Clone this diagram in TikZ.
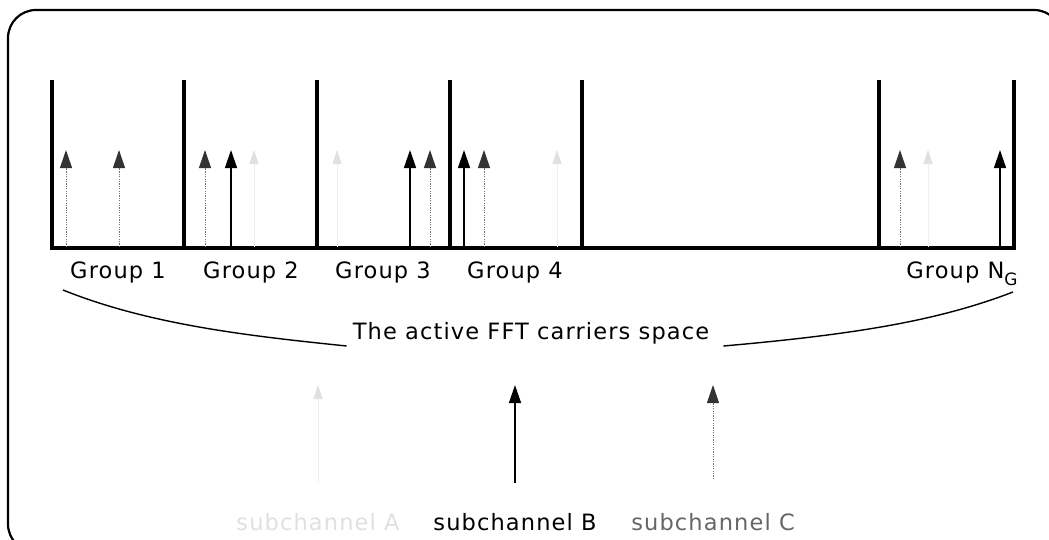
\documentclass[tikz,border=0pt]{standalone}
\usepackage{fontspec}
\setmainfont{DejaVu Sans}[LetterSpace=5]
\usetikzlibrary{arrows.meta}
\begin{document}
\begin{tikzpicture}[x=1pt,y=-1pt,
  lbl/.style={font=\fontsize{22.5}{24}\selectfont, inner sep=0pt, anchor=base},
  wall/.style={line width=3.2pt},
  chB/.style={-{Triangle[length=18pt,width=12pt]}, draw=black, line width=1.4pt},
  chC/.style={-{Triangle[length=18pt,width=12pt,color=black!80,fill=black!80]},
    draw=black!55, line width=1pt, dash pattern=on 1.2pt off 1.2pt},
  chA/.style={-{Triangle[length=14pt,width=9pt,color=black!12,fill=black!12]},
    draw=black!6, line width=0.6pt}]
  \useasboundingbox (0,0) rectangle (1049,539);
  % outer frame
  \begin{scope}
    \clip (0,0) rectangle (1049,539);
    \draw[line width=2.2pt, rounded corners=28pt] (8,10) rectangle (1062,552);
  \end{scope}

  % group boundaries
  \foreach \n/\x in {0/52,1/184,2/317,3/450,4/582,5/879,6/1014}{
    \coordinate (t\n) at (\x,80);
    \coordinate (b\n) at (\x,248);
  }
  \draw[wall] (t0) -- (b0) -- (b6) -- (t6);
  \foreach \n in {1,...,5}{\draw[wall] (t\n) -- (b\n);}

  % carriers: base and tip of each
  \foreach \n/\x in {c1/66,c2/119,c3/205,b1/231,a1/254,a2/337,b2/410,c4/430,b3/464,c5/484,a3/557,c6/900,a4/928,b4/1000}{
    \coordinate (\n-base) at (\x,247);
    \coordinate (\n-tip) at (\x,150);
  }
  \foreach \n in {b1,b2,b3,b4}{\draw[chB] (\n-base) -- (\n-tip);}
  \foreach \n in {c1,c2,c3,c4,c5,c6}{\draw[chC] (\n-base) -- (\n-tip);}
  \foreach \n in {a1,a2,a3,a4}{\draw[chA] (\n-base) -- (\n-tip);}

  % group labels
  \node[lbl] (g1) at (118,278) {Group 1};
  \node[lbl] (g2) at (251,278) {Group 2};
  \node[lbl] (g3) at (383,278) {Group 3};
  \node[lbl] (g4) at (515,278) {Group 4};
  \node[lbl] (gn) at (962,278) {Group N\raisebox{-7pt}{\fontsize{17}{18}\selectfont G}};

  % span of the active carriers
  \node[lbl] (span) at (531,339) {The active FFT carriers space};
  \coordinate (sl) at (63,290);
  \coordinate (sr) at (1013,292);
  \draw[line width=1.4pt] (sl) .. controls (150,325) and (250,336) .. ([xshift=-6pt,yshift=-7pt]span.base west);
  \draw[line width=1.4pt] ([xshift=14pt,yshift=-7pt]span.base east) .. controls (860,334) and (940,320) .. (sr);

  % subchannel legend
  \node[lbl, text=black!12] (sa) at (318,530) {subchannel A};
  \node[lbl] (sb) at (515,530) {subchannel B};
  \node[lbl, text=black!60] (sc) at (713,530) {subchannel C};
  \coordinate (sa-tip) at (318,385);
  \coordinate (sa-base) at (318,482);
  \coordinate (sb-tip) at (515,385);
  \coordinate (sb-base) at (515,483);
  \coordinate (sc-tip) at (713,385);
  \coordinate (sc-base) at (713,479);
  \draw[chA] (sa-base) -- (sa-tip);
  \draw[chB] (sb-base) -- (sb-tip);
  \draw[chC] (sc-base) -- (sc-tip);
\end{tikzpicture}
\end{document}
